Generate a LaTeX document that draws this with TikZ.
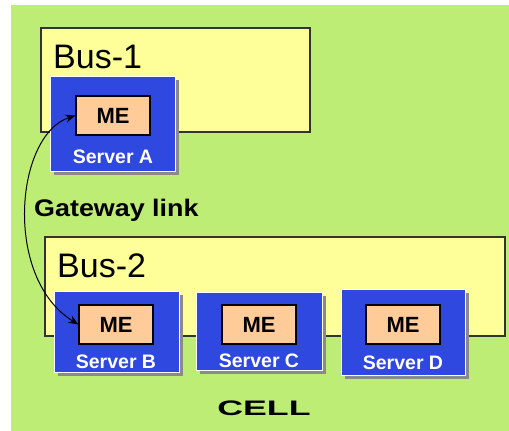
\documentclass[tikz,border=0pt]{standalone}
\usepackage{fontspec}
\usetikzlibrary{arrows.meta}
\setmainfont{Liberation Sans}
\definecolor{cellgreen}{HTML}{BDED75}
\definecolor{busyellow}{HTML}{FFFF99}
\definecolor{serverblue}{HTML}{2E48E0}
\definecolor{meorange}{HTML}{FFCC99}
\definecolor{shadowgrey}{HTML}{8A8A8A}
\begin{document}
\begin{tikzpicture}[x=1pt,y=-1pt,
  busbox/.style={draw=black!80,line width=1.2pt,fill=busyellow},
  serverbox/.style={draw=white,line width=0.8pt,fill=serverblue},
  shadowbox/.style={fill=shadowgrey,draw=none},
  mebox/.style={draw=black,line width=1.2pt,fill=meorange,inner sep=0pt,
    minimum width=74pt,minimum height=39pt,
    font=\fontsize{22}{22}\selectfont\bfseries},
  srvlabel/.style={text=white,font=\fontsize{19.5}{19.5}\selectfont\bfseries,inner sep=0pt},
  buslabel/.style={font=\fontsize{34}{34}\selectfont,inner sep=0pt,anchor=base west},
  gwlink/.style={{Stealth[length=10pt,width=8pt]}-{Stealth[length=10pt,width=8pt]},line width=1pt,black}
]
\useasboundingbox (0,0) rectangle (509,431);
% cell background
\fill[white] (0,0) rectangle (509,431);
\fill[cellgreen] (11,5) rectangle (509,431);

% buses
\draw[busbox] (41,28) rectangle (310,132);
\node[buslabel] (bus1) at (53,68) {Bus-1};
\draw[busbox] (45,237) rectangle (505,336);
\node[buslabel] (bus2) at (57,277) {Bus-2};

% servers: shadow, box, ME, label
% Server A
\fill[shadowbox] (54,80) rectangle (179,175);
\draw[serverbox] (50,76) rectangle (175,171);
\node[mebox] (meA) at (113,115.5) {ME};
\node[srvlabel] (srvA) at (113,157) {Server A};
% Server B
\fill[shadowbox] (58,295) rectangle (183,376);
\draw[serverbox] (54,291) rectangle (179,372);
\node[mebox] (meB) at (116,324.5) {ME};
\node[srvlabel] (srvB) at (116,362) {Server B};
% Server C
\fill[shadowbox] (200,296) rectangle (326,374);
\draw[serverbox] (196,292) rectangle (322,370);
\node[mebox] (meC) at (259,324.5) {ME};
\node[srvlabel] (srvC) at (259,361) {Server C};
% Server D
\fill[shadowbox] (345,293) rectangle (469,379);
\draw[serverbox] (341,289) rectangle (465,375);
\node[mebox] (meD) at (403,324.5) {ME};
\node[srvlabel] (srvD) at (403,363) {Server D};

% gateway link
\node[font=\fontsize{24}{24}\selectfont\bfseries,inner sep=0pt,anchor=west,xscale=1.12] (gw) at (34,210) {Gateway link};
\draw[gwlink] (meA.west) .. controls (15,135) and (3,278) .. (meB.west);

% cell label
\node[font=\fontsize{21}{21}\selectfont\bfseries,inner sep=0pt,xscale=1.7] (cell) at (264,408) {CELL};
\end{tikzpicture}
\end{document}
